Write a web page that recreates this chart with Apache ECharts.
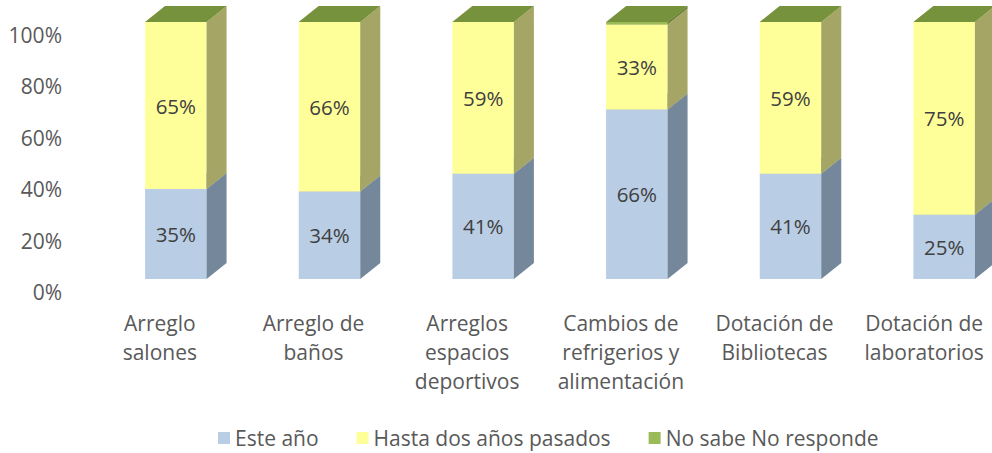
<!DOCTYPE html>
<html><head><meta charset="utf-8">
<script src="https://cdn.jsdelivr.net/npm/echarts@6/dist/echarts.min.js"></script>
<style>html,body{margin:0;padding:0;background:#fff}#c{width:992px;height:453px}</style>
</head><body><div id="c"></div>
<script>
const categories = ['Arreglo\nsalones', 'Arreglo de\nbaños', 'Arreglos\nespacios\ndeportivos', 'Cambios de\nrefrigerios y\nalimentación', 'Dotación de\nBibliotecas', 'Dotación de\nlaboratorios'];
const seriesNames = ['Este año', 'Hasta dos años pasados', 'No sabe No responde'];
const esteAno = [35, 34, 41, 66, 41, 25];
const hastaDos = [65, 66, 59, 33, 59, 75];
const noSabe = [0, 0, 0, 1, 0, 0];
const yTicks = [0, 20, 40, 60, 80, 100];

const FONT = '"Open Sans", sans-serif';
const styles = [
  { front: '#B9CDE5', side: '#75879A', top: '#94A4B7', label: true },
  { front: '#FFFF99', side: '#A5A566', top: '#CCCC7A', label: true },
  { front: '#9BBB59', side: '#6A803D', top: '#76923C', label: false }
];

const allValues = [esteAno, hastaDos, noSabe];
const bases = [];
let cum = categories.map(() => 0);
allValues.forEach(vals => {
  bases.push(cum.slice());
  cum = cum.map((c, i) => c + vals[i]);
});

function makeRender(st) {
  return function (params, api) {
    const idx = api.value(0), start = api.value(1), end = api.value(2), v = api.value(3);
    const bandW = api.size([1, 0])[0];
    const w = bandW * 0.4;
    const pB = api.coord([idx, start]);
    const pT = api.coord([idx, end]);
    const off = -13, dx = 20, dz = -16;
    const x0 = pB[0] - w / 2, x1 = x0 + w;
    const yb = pB[1] + off, yt = pT[1] + off;
    const children = [];
    if (yb - yt > 0.01) {
      children.push({ type: 'rect', shape: { x: x0, y: yt, width: w, height: yb - yt }, style: { fill: st.front } });
      children.push({ type: 'polygon', shape: { points: [[x1, yb], [x1 + dx, yb + dz], [x1 + dx, yt + dz], [x1, yt]] }, style: { fill: st.side } });
    }
    children.push({ type: 'polygon', shape: { points: [[x0, yt], [x1, yt], [x1 + dx, yt + dz], [x0 + dx, yt + dz]] }, style: { fill: st.top } });
    if (st.label && v > 0) {
      children.push({ type: 'text', style: { text: v + '%', x: (x0 + x1) / 2, y: (yb + yt) / 2, align: 'center', verticalAlign: 'middle', fill: '#404040', font: '20.5px ' + FONT }, z2: 10 });
    }
    return { type: 'group', children };
  };
}

const series = allValues.map((vals, s) => ({
  name: seriesNames[s],
  type: 'custom',
  renderItem: makeRender(styles[s]),
  itemStyle: { color: styles[s].front },
  encode: { x: 0, y: [1, 2] },
  data: vals.map((v, i) => [i, bases[s][i], bases[s][i] + v, v]),
  z: 2 + s
}));

const lastIdx = categories.length - 1;
const xData = categories.map((c, i) => ({ value: c, textStyle: { padding: [0, i === lastIdx ? 40 : 32, 0, 0] } }));

const chart = echarts.init(document.getElementById('c'), null, { renderer: 'svg' });
chart.setOption({
  animation: false,
  textStyle: { fontFamily: FONT },
  grid: { left: 99, width: 922, top: 35, height: 257, containLabel: false, outerBoundsMode: 'none' },
  xAxis: {
    type: 'category', data: xData,
    axisLine: { show: false }, axisTick: { show: false },
    axisLabel: { interval: 0, margin: 16, color: '#595959', fontSize: 21, lineHeight: 29, fontFamily: FONT }
  },
  yAxis: {
    type: 'value', min: yTicks[0], max: yTicks[yTicks.length - 1], interval: 20,
    splitLine: { show: false }, axisLine: { show: false }, axisTick: { show: false },
    axisLabel: { margin: 37, color: '#595959', fontSize: 21, fontFamily: FONT, formatter: '{value}%' }
  },
  legend: {
    top: 427, left: 218, padding: 0, itemWidth: 12, itemHeight: 12, itemGap: 38, icon: 'rect',
    textStyle: { color: '#595959', fontSize: 21, lineHeight: 22, fontFamily: FONT },
    data: seriesNames
  },
  series
});
</script></body></html>
